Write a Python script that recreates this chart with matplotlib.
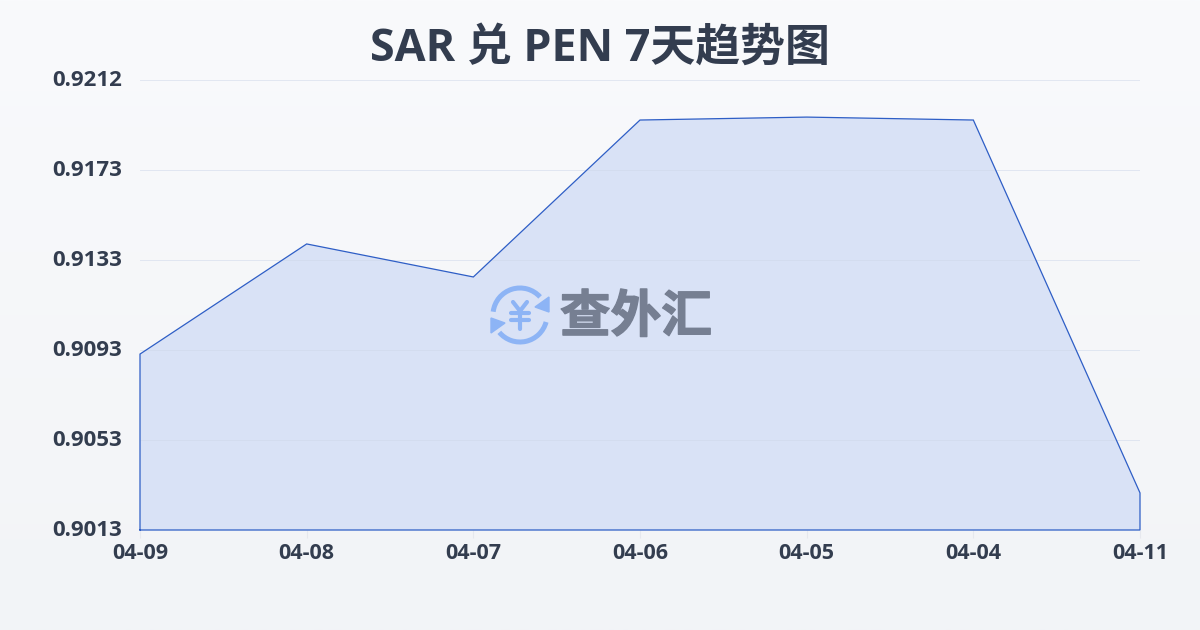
import matplotlib
matplotlib.use("Agg")
import matplotlib.pyplot as plt
import matplotlib.patheffects as pe
import matplotlib.transforms as mtrans
import numpy as np
from matplotlib.patches import Arc, Polygon

plt.rcParams['font.family'] = ['Open Sans', 'Noto Sans CJK SC', 'DejaVu Sans']

dates = ["04-09", "04-08", "04-07", "04-06", "04-05", "04-04", "04-11"]
rates = [0.90908, 0.91395, 0.91249, 0.91943, 0.91956, 0.91943, 0.90294]
y_ticks = [0.9013, 0.90528, 0.90926, 0.91324, 0.91722, 0.9212]
y_labels = ["0.9013", "0.9053", "0.9093", "0.9133", "0.9173", "0.9212"]
title = "SAR 兑 PEN 7天趋势图"

W, H = 1200, 630
TEXT = "#333d4f"
LINE = "#2e5ec6"

fig = plt.figure(figsize=(12, 6.3), dpi=100)

# page background
bg = fig.add_axes([0, 0, 1, 1], zorder=0)
grad = np.linspace(0, 1, 256).reshape(-1, 1)
c0 = np.array([249, 250, 252]) / 255
c1 = np.array([242, 244, 247]) / 255
bg.imshow(c0 + grad[..., None] * (c1 - c0), aspect="auto", extent=[0, W, H, 0])
bg.axis("off")

ax = fig.add_axes([140 / W, 1 - 530 / H, 1000 / W, 450 / H], zorder=1)
ax.patch.set_alpha(0)
x = np.arange(len(dates))
ax.set_xlim(0, len(dates) - 1)
ax.set_ylim(y_ticks[0], y_ticks[-1])

ax.fill_between(x, rates, y_ticks[0], facecolor="#d9e2f6", edgecolor="none", zorder=2)
outline_x = [0, *x, x[-1], 0]
outline_y = [y_ticks[0], *rates, y_ticks[0], y_ticks[0]]
ax.plot(outline_x, outline_y, color=LINE, lw=0.9, zorder=3, clip_on=False,
        solid_joinstyle="miter")

ax.set_yticks(y_ticks)
ax.set_yticklabels(y_labels, fontsize=16, fontweight="bold", color=TEXT)
ax.set_xticks(x)
ax.set_xticklabels(dates, fontsize=15.5, fontweight="bold", color=TEXT)
ax.tick_params(axis="y", length=0, pad=13)
ax.tick_params(axis="x", length=6, width=0.8, color="#e6e8ee", pad=3.5)
# labels sit 2px higher than the gridlines
up = mtrans.ScaledTranslation(0, 2 / 100, fig.dpi_scale_trans)
for lab in ax.get_yticklabels():
    lab.set_transform(lab.get_transform() + up)
ax.grid(axis="y", color="#e2e5ec", lw=0.8, zorder=1)
ax.set_axisbelow(False)
ax.grid(axis="y", color="#cfd8ea", lw=0.7, alpha=0.55, zorder=4)
for s in ax.spines.values():
    s.set_visible(False)

fig.text(600 / W, 1 - 49 / H, title, ha="center", va="center", fontsize=32.3,
         fontweight="bold", color=TEXT, zorder=5)

# watermark logo, drawn in pixel coordinates (y axis runs downward)
logo = fig.add_axes([0, 0, 1, 1], zorder=6)
logo.set_xlim(0, W)
logo.set_ylim(H, 0)
logo.axis("off")
BLUE = "#8db4f5"
cx, cy = 520, 315
logo.add_patch(Arc((cx, cy), 54, 54, theta1=187, theta2=318, color=BLUE, lw=3.6))
logo.add_patch(Arc((cx, cy), 54, 54, theta1=15, theta2=140, color=BLUE, lw=3.6))
logo.add_patch(Polygon([[549, 297], [549, 312], [535, 307]], color=BLUE))
logo.add_patch(Polygon([[491, 318], [491, 333], [505, 323]], color=BLUE))
# yen sign
yen = dict(color=BLUE, lw=3, solid_capstyle="round")
logo.plot([513, 520, 527], [302, 311, 302], **yen)
logo.plot([520, 520], [311, 329], **yen)
logo.plot([511, 529], [313, 313], **yen)
logo.plot([511, 529], [320, 320], **yen)
logo.text(636, 319, "查外汇", ha="center", va="center", fontsize=36.5, fontweight="bold",
          color="#767f92",
          path_effects=[pe.withStroke(linewidth=1, foreground="#767f92")])

fig.savefig("out.png", dpi=100)
